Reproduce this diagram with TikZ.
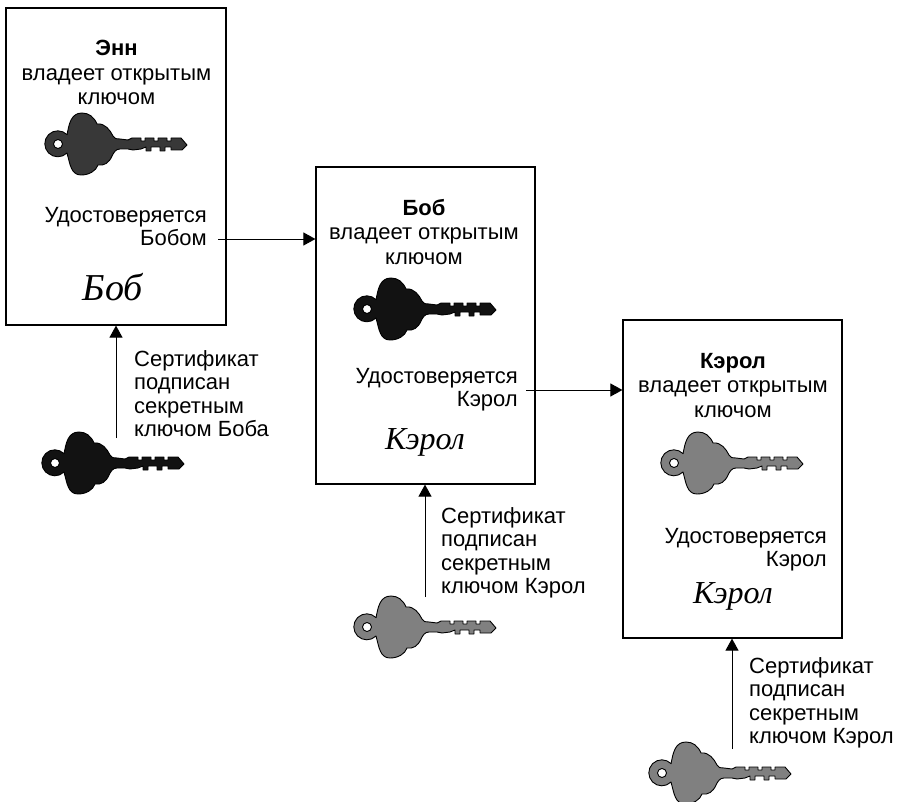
\documentclass[tikz,border=0pt]{standalone}
\usepackage{fontspec}
\setmainfont{Liberation Sans}
\newfontfamily\sigfont{Liberation Serif}
\usetikzlibrary{arrows.meta}
\tikzset{
  card/.style={draw=black,line width=1.2pt,fill=white},
  lbl/.style={font=\fontsize{22}{23.5}\selectfont,inner sep=0pt},
  lblc/.style={lbl,align=center,anchor=north,font=\fontsize{22}{24.5}\selectfont},
  lblr/.style={lbl,align=right,anchor=north east},
  lbll/.style={lbl,align=left,anchor=north west},
  sig/.style={inner sep=0pt,font=\fontsize{32}{32}\selectfont\sigfont\itshape},
  link/.style={line width=0.9pt,-{Triangle[length=12pt,width=13pt]}},
  pics/keyshape/.style={code={
    \path[draw=black,line width=0.9pt,fill=#1,even odd rule,line join=round]
      (9,-9) .. controls (11,-20) and (13,-31) .. (24,-31)
      .. controls (31,-31) and (36,-27) .. (39,-20)
      .. controls (47,-21) and (52,-14) .. (55,-8)
      .. controls (56,-5) and (59,-5) .. (62,-5)
      -- (70,-4) -- (74,-6) -- (83,-6) -- (83,-3) -- (87,-3) -- (87,-6)
      -- (96,-6) -- (96,-3) -- (100,-3) -- (100,-6) -- (109,-6) -- (109,-3) -- (113,-3) -- (113,-6) -- (123,-6)
      -- (129,1) -- (124,6) -- (113,6) -- (113,3) -- (107,3) -- (107,7) -- (102,7) -- (102,3) -- (93,3) -- (93,7) -- (88,7) -- (88,3)
      -- (83,5) -- (75,6) -- (70,5) -- (62,5)
      .. controls (58,5) and (56,8) .. (54,12)
      .. controls (51,19) and (46,22) .. (40,21)
      .. controls (38,27) and (31,31) .. (23,31)
      .. controls (13,31) and (12,20) .. (9,9)
      arc[start angle=45,end angle=315,radius=13]
      (4.5,0) arc[start angle=0,end angle=360,radius=4.5];
  }}
}
\begin{document}
\begin{tikzpicture}[x=1pt,y=-1pt]
\useasboundingbox[fill=white] (0,0) rectangle (899,802);
% cards
\node[card,minimum width=220pt,minimum height=317pt,inner sep=0pt] (ann) at (116,166.5) {};
\node[card,minimum width=219pt,minimum height=317pt,inner sep=0pt] (bob) at (425.5,325.5) {};
\node[card,minimum width=219pt,minimum height=318pt,inner sep=0pt] (carol) at (732.5,479) {};
% Ann
\node[lblc] (anntitle) at (116.5,40) {\textbf{Энн}\\владеет открытым\\ключом};
\pic at (58,144) {keyshape={black!78}};
\node[lblr] (anncert) at (207,207) {Удостоверяется\\Бобом};
\node[sig,font=\fontsize{38}{38}\selectfont\sigfont\itshape] (annsig) at (113,287) {Боб};
% Bob
\node[lblc] (bobtitle) at (424,199) {\textbf{Боб}\\владеет открытым\\ключом};
\pic at (367,309) {keyshape={black!93}};
\node[lblr] (bobcert) at (518,368) {Удостоверяется\\Кэрол};
\node[sig] (bobsig) at (425,442) {Кэрол};
% Carol
\node[lblc] (caroltitle) at (733,353) {\textbf{Кэрол}\\владеет открытым\\ключом};
\pic at (674,463) {keyshape={black!50}};
\node[lblr] (carolcert) at (827,528) {Удостоверяется\\Кэрол};
\node[sig] (carolsig) at (733,596) {Кэрол};
% lower
\pic at (55,463) {keyshape={black!93}};
\node[lbll] (t1) at (134,350) {Сертификат\\подписан\\секретным\\ключом Боба};
\coordinate (k1) at (116,438);
\pic at (367,627) {keyshape={black!50}};
\node[lbll] (t2) at (441,507) {Сертификат\\подписан\\секретным\\ключом Кэрол};
\coordinate (k2) at (425,597);
\pic at (662,773) {keyshape={black!50}};
\node[lbll] (t3) at (749,657) {Сертификат\\подписан\\секретным\\ключом Кэрол};
\coordinate (k3) at (732,749);
% connectors
\draw[link] (k1) -- (k1 |- ann.south);
\draw[link] (k2) -- (k2 |- bob.south);
\draw[link] (k3) -- (k3 |- carol.south);
\coordinate (a1) at (218,239);
\coordinate (a2) at (526,390);
\draw[link] (a1) -- (a1 -| bob.west);
\draw[link] (a2) -- (a2 -| carol.west);
\end{tikzpicture}
\end{document}
